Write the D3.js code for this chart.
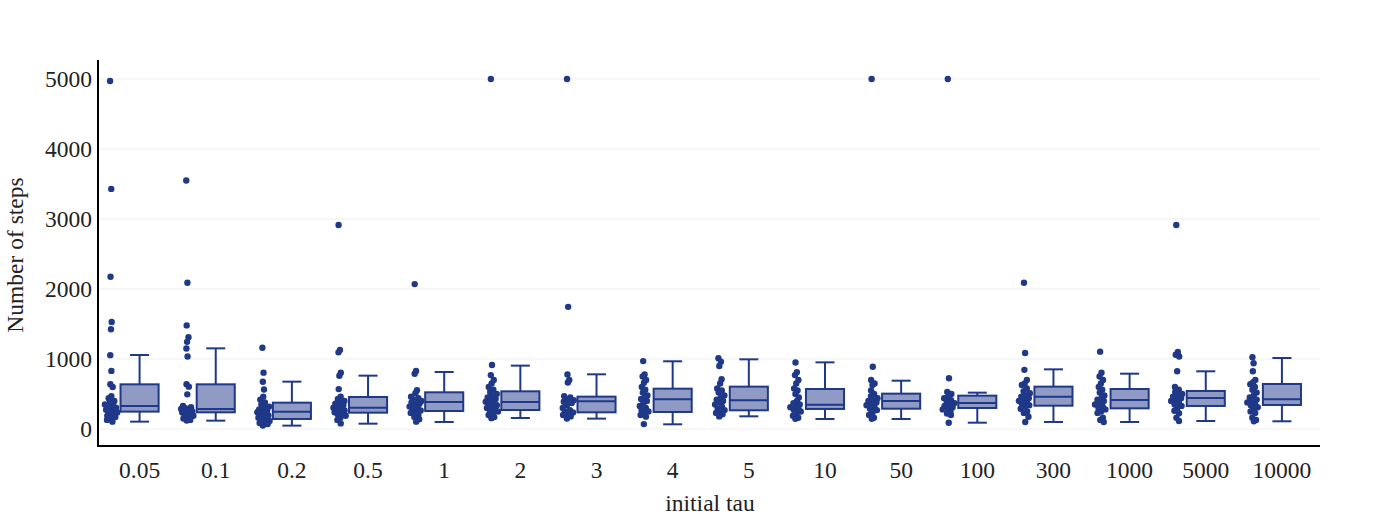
<!DOCTYPE html>
<html>
<head>
<meta charset="utf-8">
<script src="https://cdn.jsdelivr.net/npm/d3@7"></script>
<style>
  body { margin: 0; background: #fff; }
  text { font-family: "Liberation Serif", "Times New Roman", serif; fill: #222; }
  .grid line { stroke: #eceef2; stroke-width: 1; }
</style>
</head>
<body>
<div id="wrapper"></div>
<script>
// categories (initial tau)
const categories = ["0.05", "0.1", "0.2", "0.5", "1", "2", "3", "4", "5", "10", "50", "100", "300", "1000", "5000", "10000"];

// sample points per category (number of steps)
const samples = [
  [4970, 3430, 2175, 1530, 1425, 1055, 830, 640, 600, 470, 440, 400, 380, 350, 335, 320, 305, 290, 275, 260, 250, 235, 210, 190, 170, 150, 130, 105],
  [3550, 2090, 1480, 1310, 1245, 1150, 1035, 640, 605, 495, 330, 310, 295, 285, 275, 265, 255, 245, 235, 225, 210, 190, 170, 150, 130, 120],
  [1160, 805, 675, 565, 460, 420, 380, 350, 320, 300, 280, 265, 250, 240, 225, 210, 195, 180, 160, 145, 130, 115, 100, 85, 70, 50],
  [2915, 1130, 1095, 805, 760, 570, 460, 430, 400, 380, 360, 340, 320, 305, 290, 280, 265, 250, 240, 225, 210, 190, 160, 130, 80],
  [2070, 830, 790, 555, 510, 460, 440, 420, 400, 390, 380, 360, 340, 320, 300, 280, 265, 250, 230, 200, 170, 140, 105],
  [5000, 915, 770, 700, 650, 600, 560, 530, 500, 470, 450, 430, 410, 390, 380, 360, 340, 320, 300, 280, 265, 250, 230, 200, 170, 155],
  [5000, 1745, 780, 700, 665, 470, 450, 430, 410, 400, 390, 370, 340, 300, 270, 250, 235, 220, 200, 180, 150],
  [970, 780, 750, 700, 660, 600, 560, 520, 480, 450, 430, 400, 370, 330, 300, 270, 250, 230, 200, 176, 70],
  [1010, 960, 900, 710, 650, 580, 550, 520, 480, 450, 420, 400, 380, 350, 320, 290, 270, 250, 230, 210, 180],
  [950, 810, 770, 700, 650, 580, 550, 500, 450, 400, 370, 350, 330, 310, 290, 270, 250, 220, 190, 160, 145],
  [5000, 890, 700, 650, 630, 550, 500, 470, 440, 410, 400, 380, 360, 340, 310, 290, 270, 240, 200, 160, 145],
  [5000, 725, 530, 500, 470, 440, 410, 390, 370, 350, 330, 310, 300, 280, 250, 220, 200, 90],
  [2090, 1085, 845, 700, 650, 630, 580, 540, 510, 480, 460, 440, 420, 400, 380, 360, 340, 320, 290, 250, 230, 175, 100],
  [1105, 805, 750, 700, 650, 600, 560, 520, 480, 450, 420, 400, 380, 350, 320, 300, 280, 250, 230, 160, 130, 100],
  [2915, 1100, 1060, 1035, 825, 600, 560, 530, 500, 480, 460, 440, 420, 400, 380, 350, 330, 300, 260, 225, 160, 115],
  [1025, 940, 825, 700, 670, 640, 600, 560, 520, 480, 450, 420, 400, 380, 360, 340, 310, 280, 250, 230, 160, 130, 110]
];

// box summaries
const lowerFence = [105, 119, 48, 76, 100, 157, 148, 67, 181, 143, 143, 90, 100, 100, 114, 110];
const q1 = [248, 238, 143, 233, 257, 271, 238, 243, 267, 286, 290, 300, 333, 295, 329, 343];
const median = [329, 286, 248, 305, 386, 386, 395, 424, 410, 348, 400, 371, 462, 414, 443, 424];
const q3 = [638, 638, 376, 457, 524, 538, 462, 576, 605, 571, 505, 476, 605, 571, 543, 643];
const upperFence = [1057, 1152, 676, 762, 814, 905, 781, 967, 995, 952, 690, 519, 852, 790, 824, 1014];

const yTicks = [0, 1000, 2000, 3000, 4000, 5000];

const color = "rgb(31,56,136)";
const fill = "rgb(143,155,196)";
const fontSize = "23.5px";

const dimensions = {
  width: 1400,
  height: 525,
  left: 98,
  right: 1320,
  top: 60,
  bottom: 446,
};

const svg = d3.select("#wrapper")
  .append("svg")
  .attr("width", dimensions.width)
  .attr("height", dimensions.height);

const x = d3.scaleBand()
  .domain(categories)
  .range([101.5, dimensions.right])
  .padding(0);

const y = d3.scaleLinear()
  .domain([-243, 5271])
  .range([dimensions.bottom, dimensions.top]);

// grid
svg.append("g")
  .attr("class", "grid")
  .selectAll("line")
  .data(yTicks)
  .join("line")
  .attr("x1", dimensions.left)
  .attr("x2", dimensions.right)
  .attr("y1", (d) => y(d))
  .attr("y2", (d) => y(d));

// y tick labels
svg.append("g")
  .selectAll("text")
  .data(yTicks)
  .join("text")
  .attr("x", dimensions.left - 6)
  .attr("y", (d) => y(d))
  .attr("dy", "0.35em")
  .attr("text-anchor", "end")
  .style("font-size", fontSize)
  .text((d) => d);

// x tick labels
svg.append("g")
  .selectAll("text")
  .data(categories)
  .join("text")
  .attr("x", (d) => x(d) + x.bandwidth() / 2)
  .attr("y", 470)
  .attr("dy", "0.35em")
  .attr("text-anchor", "middle")
  .style("font-size", fontSize)
  .text((d) => d);

// axis titles
svg.append("text")
  .attr("x", 710)
  .attr("y", 503)
  .attr("dy", "0.35em")
  .attr("text-anchor", "middle")
  .style("font-size", fontSize)
  .text("initial tau");

svg.append("text")
  .attr("transform", `translate(15, ${(dimensions.top + dimensions.bottom) / 2 + 2}) rotate(-90)`)
  .attr("dy", "0.35em")
  .attr("text-anchor", "middle")
  .style("font-size", fontSize)
  .text("Number of steps");

// boxes
const boxWidth = x.bandwidth() * 0.5;
const groups = svg.append("g")
  .selectAll("g")
  .data(categories)
  .join("g")
  .attr("transform", (d) => `translate(${x(d) + x.bandwidth() / 2}, 0)`);

groups.append("line")
  .attr("x1", 0).attr("x2", 0)
  .attr("y1", (d, i) => y(upperFence[i]))
  .attr("y2", (d, i) => y(q3[i]))
  .attr("stroke", color).attr("stroke-width", 2);

groups.append("line")
  .attr("x1", 0).attr("x2", 0)
  .attr("y1", (d, i) => y(q1[i]))
  .attr("y2", (d, i) => y(lowerFence[i]))
  .attr("stroke", color).attr("stroke-width", 2);

groups.append("line")
  .attr("x1", -boxWidth / 4).attr("x2", boxWidth / 4)
  .attr("y1", (d, i) => y(upperFence[i]))
  .attr("y2", (d, i) => y(upperFence[i]))
  .attr("stroke", color).attr("stroke-width", 2);

groups.append("line")
  .attr("x1", -boxWidth / 4).attr("x2", boxWidth / 4)
  .attr("y1", (d, i) => y(lowerFence[i]))
  .attr("y2", (d, i) => y(lowerFence[i]))
  .attr("stroke", color).attr("stroke-width", 2);

groups.append("rect")
  .attr("x", -boxWidth / 2)
  .attr("width", boxWidth)
  .attr("y", (d, i) => y(q3[i]))
  .attr("height", (d, i) => y(q1[i]) - y(q3[i]))
  .attr("fill", fill)
  .attr("stroke", color)
  .attr("stroke-width", 2);

groups.append("line")
  .attr("x1", -boxWidth / 2).attr("x2", boxWidth / 2)
  .attr("y1", (d, i) => y(median[i]))
  .attr("y2", (d, i) => y(median[i]))
  .attr("stroke", color).attr("stroke-width", 2);

// sample points left of each box; jitter grows with local density
const pointOffset = -boxWidth * 0.75;
const jitterWidth = 13;
groups.each(function (d, i) {
  const vals = samples[i];
  const spread = vals.map((v) => {
    const near = vals.filter((w) => Math.abs(w - v) < 80).length;
    return Math.min(1, near / 7);
  });
  d3.select(this)
    .selectAll("circle")
    .data(vals)
    .join("circle")
    .attr("cx", (v, j) => pointOffset + (((j * 0.618034) % 1) - 0.5) * jitterWidth * spread[j])
    .attr("cy", (v) => y(v))
    .attr("r", 3.2)
    .attr("fill", color);
});

// axis lines
svg.append("line")
  .attr("x1", dimensions.left).attr("x2", dimensions.left)
  .attr("y1", dimensions.top).attr("y2", dimensions.bottom + 1)
  .attr("stroke", "#000").attr("stroke-width", 2);

svg.append("line")
  .attr("x1", dimensions.left - 1).attr("x2", dimensions.right)
  .attr("y1", dimensions.bottom).attr("y2", dimensions.bottom)
  .attr("stroke", "#000").attr("stroke-width", 2);
</script>
</body>
</html>
